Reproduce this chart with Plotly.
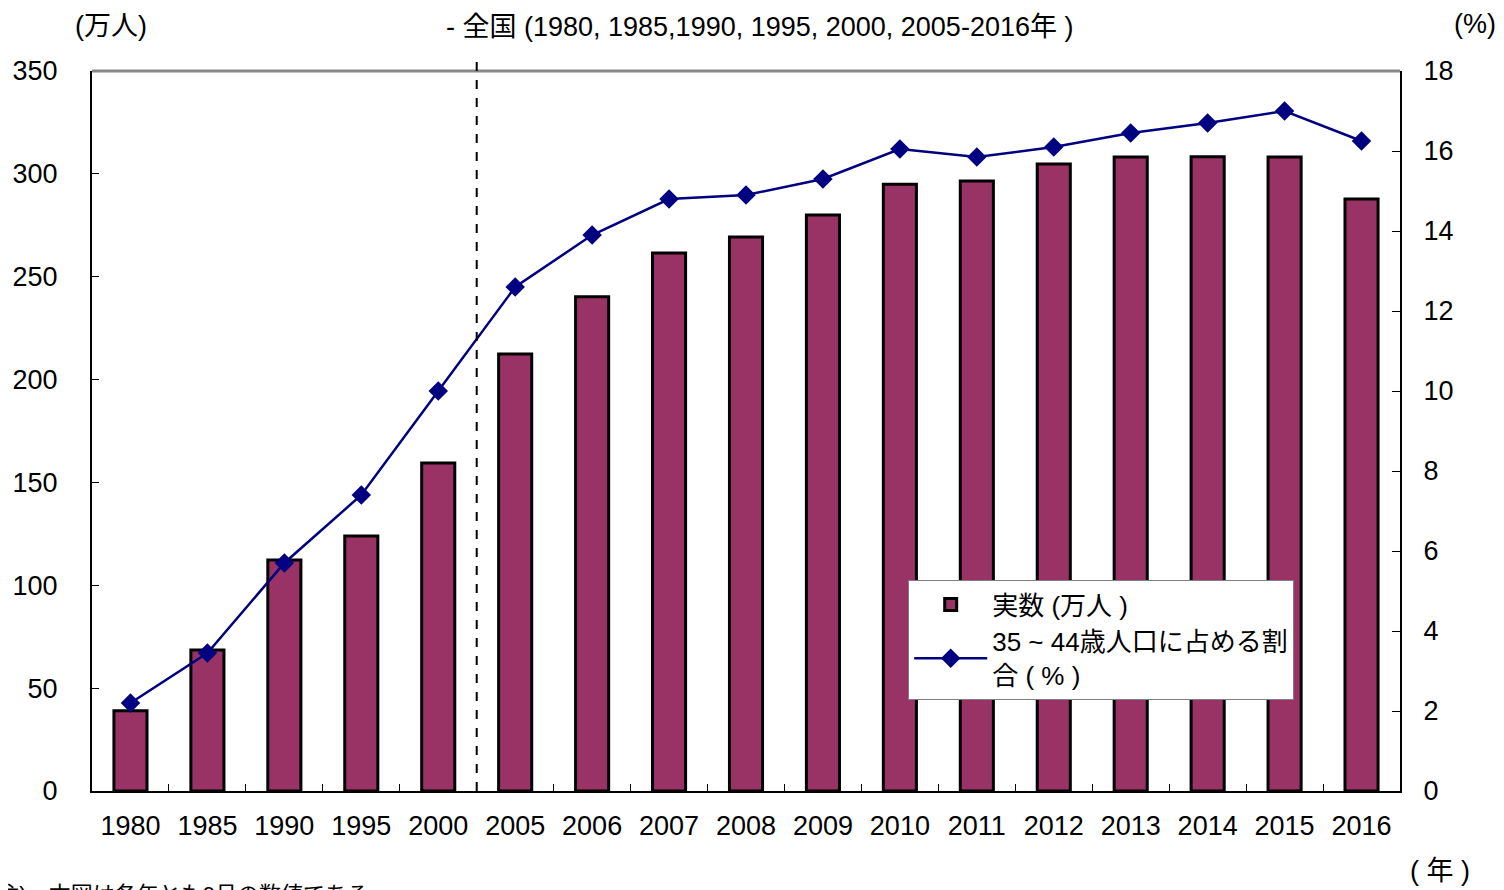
import plotly.graph_objects as go

years = ["1980", "1985", "1990", "1995", "2000", "2005", "2006", "2007", "2008",
         "2009", "2010", "2011", "2012", "2013", "2014", "2015", "2016"]
counts = [39, 68.5, 112.3, 124, 159.5, 212.4, 240.2, 261.5, 269.3,
          280, 295, 296.5, 304.8, 308.2, 308.3, 308.2, 287.8]
shares = [2.2, 3.45, 5.7, 7.4, 10.0, 12.6, 13.9, 14.8, 14.9,
          15.3, 16.05, 15.85, 16.1, 16.45, 16.7, 17.0, 16.25]

bar_name = "実数 (万人 )"
line_name = "35 ~ 44歳人口に占める割<br>合 ( % )"
title_text = "- 全国 (1980, 1985,1990, 1995, 2000, 2005-2016年 )"
note_text = "(注)　本図は各年とも9月の数値である。"

FONT = "Liberation Sans, Arial, Noto Sans CJK JP, sans-serif"

fig = go.Figure()
fig.add_trace(go.Bar(
    x=years, y=counts, name=bar_name, width=0.43, legendgroup="a",
    marker=dict(color="#993366", line=dict(color="black", width=3)),
    yaxis="y"))
fig.add_trace(go.Scatter(
    x=years, y=shares, name=line_name, mode="lines+markers", legendgroup="b",
    line=dict(color="#000080", width=2.5),
    marker=dict(symbol="diamond", size=15, color="#000080"),
    yaxis="y2"))

# page body has an 8px margin, so the figure is offset by (8, 8)
fig.update_layout(
    width=1496, height=882,
    margin=dict(l=84, r=104, t=63, b=99, autoexpand=False),
    plot_bgcolor="white", paper_bgcolor="white",
    font=dict(family=FONT, size=27, color="black"),
    showlegend=True,
    legend=dict(x=0.624, y=0.293, xanchor="left", yanchor="top",
                bgcolor="white", bordercolor="#808080", borderwidth=1,
                font=dict(size=26, family=FONT), itemwidth=73,
                tracegroupgap=28, traceorder="normal"),
    xaxis=dict(type="category", range=[-0.5, 16.5], autorange=False,
               showline=True, linecolor="black", linewidth=2,
               ticks="inside", tickson="boundaries", ticklen=7, tickcolor="black",
               tickfont=dict(size=27), showgrid=False, zeroline=False,
               ticklabelstandoff=10, automargin=False),
    yaxis=dict(range=[0, 350], dtick=50, showline=True, linecolor="black", linewidth=2,
               ticks="inside", ticklen=7, tickcolor="black", showgrid=False,
               zeroline=False, tickfont=dict(size=27), ticklabelstandoff=27,
               automargin=False),
    yaxis2=dict(range=[0, 18], dtick=2, overlaying="y", side="right",
                showline=True, linecolor="black", linewidth=2,
                ticks="inside", ticklen=8, tickcolor="black", showgrid=False,
                zeroline=False, tickfont=dict(size=27), ticklabelstandoff=16,
                automargin=False),
)

fig.add_shape(type="line", xref="paper", yref="paper", x0=0, x1=1, y0=1, y1=1,
              line=dict(color="#888888", width=3))
fig.add_shape(type="line", xref="x", yref="paper", x0=4.5, x1=4.5, y0=0, y1=1.013,
              line=dict(color="black", width=2, dash="dash"))

fig.add_annotation(text="(万人)", xref="paper", yref="paper", x=0.0145, y=1.0625,
                   xanchor="center", yanchor="middle", showarrow=False,
                   font=dict(size=27, family=FONT))
fig.add_annotation(text="(%)", xref="paper", yref="paper", x=1.0573, y=1.065,
                   xanchor="center", yanchor="middle", showarrow=False,
                   font=dict(size=27, family=FONT))
fig.add_annotation(text="( 年 )", xref="paper", yref="paper", x=1.0306, y=-0.111,
                   xanchor="center", yanchor="middle", showarrow=False,
                   font=dict(size=27, family=FONT))
fig.add_annotation(text=title_text, xref="paper", yref="paper", x=0.5107, y=1.0611,
                   xanchor="center", yanchor="middle", showarrow=False,
                   font=dict(size=27, family=FONT))
fig.add_annotation(text=note_text, xref="paper", yref="paper", x=-0.0795, y=-0.1236,
                   xanchor="left", yanchor="top", showarrow=False,
                   font=dict(size=22, family=FONT))

fig.write_html("out.html")
